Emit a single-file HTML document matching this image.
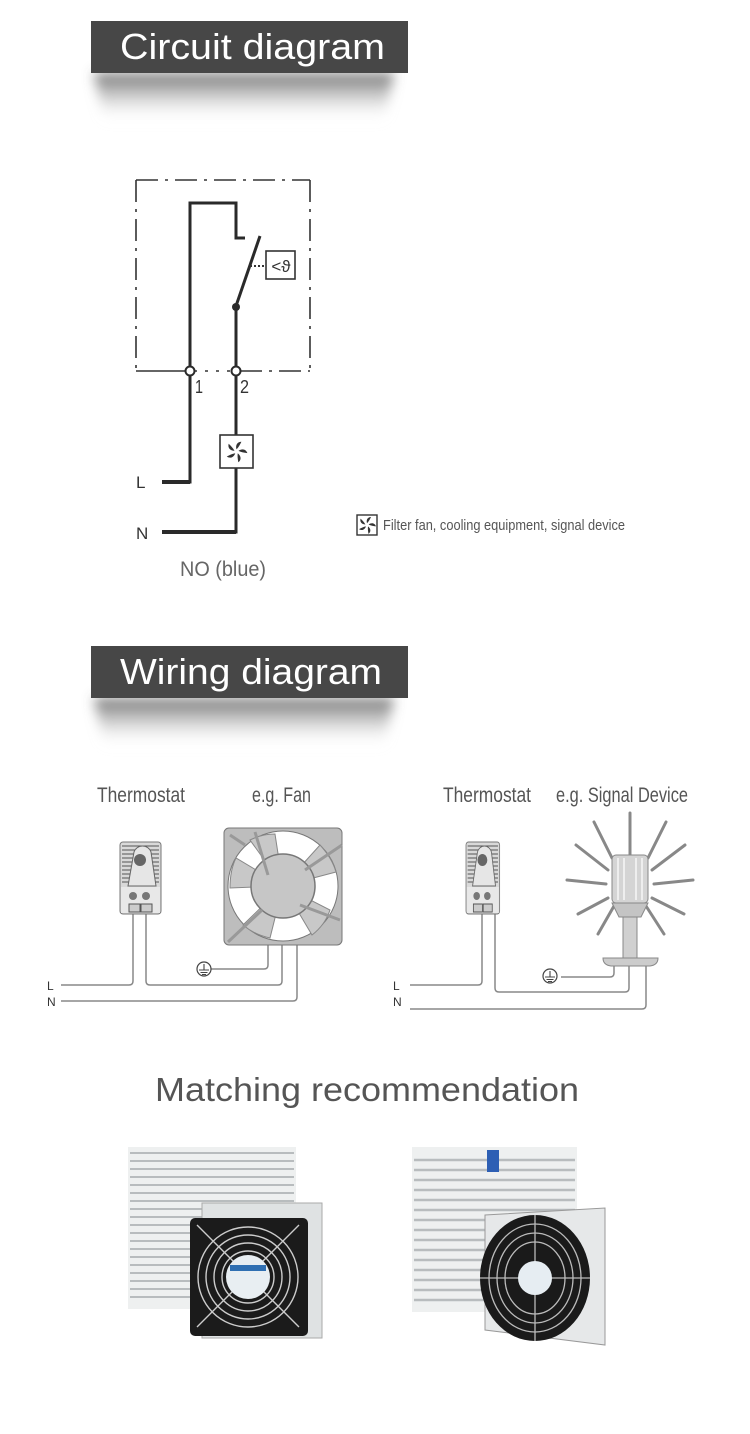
<!DOCTYPE html>
<html><head><meta charset="utf-8"><style>
html,body{margin:0;padding:0;background:#fff;}
svg{display:block;}
text{font-family:"Liberation Sans",sans-serif;}
</style></head><body>
<svg width="750" height="1434" viewBox="0 0 750 1434" xmlns="http://www.w3.org/2000/svg">
<defs>
<linearGradient id="sh" x1="0" y1="0" x2="0" y2="1">
<stop offset="0" stop-color="#555" stop-opacity="0.85"/>
<stop offset="0.5" stop-color="#999" stop-opacity="0.45"/>
<stop offset="1" stop-color="#fff" stop-opacity="0"/>
</linearGradient>
<filter id="bl" x="-20%" y="-50%" width="140%" height="200%"><feGaussianBlur stdDeviation="6"/></filter>
<g id="fanic">
<g fill="#333">
<path d="M0,-1.5 C-1,-5 1,-7 3.5,-7 C2.5,-5 1.5,-3 0,-1.5Z"/>
<path d="M0,-1.5 C-1,-5 1,-7 3.5,-7 C2.5,-5 1.5,-3 0,-1.5Z" transform="rotate(72)"/>
<path d="M0,-1.5 C-1,-5 1,-7 3.5,-7 C2.5,-5 1.5,-3 0,-1.5Z" transform="rotate(144)"/>
<path d="M0,-1.5 C-1,-5 1,-7 3.5,-7 C2.5,-5 1.5,-3 0,-1.5Z" transform="rotate(216)"/>
<path d="M0,-1.5 C-1,-5 1,-7 3.5,-7 C2.5,-5 1.5,-3 0,-1.5Z" transform="rotate(288)"/>
</g></g>
<g id="gnd"><circle r="7" fill="#fff" stroke="#444" stroke-width="1.2"/><path d="M0,-5V1M-5,1H5M-3.5,3.5H3.5M-2,5.5H2" stroke="#444" stroke-width="1.1"/></g>
<g id="thermo">
<rect x="0" y="0" width="41" height="72" rx="3" fill="#d9d9d9" stroke="#777"/>
<g stroke="#555" stroke-width="1">
<path d="M2,4H39M2,8H39M2,12H39M2,16H39M2,20H39M2,24H39M2,28H39M2,32H39M2,36H39M2,40H39"/>
</g>
<path d="M14,10 a9,9 0 0 1 17,0 L36,44 L8,44 Z" fill="#e6e6e6" stroke="#666"/>
<circle cx="20" cy="18" r="6" fill="#666"/>
<rect x="1" y="45" width="39" height="26" fill="#e8e8e8"/>
<circle cx="13" cy="54" r="4" fill="#777"/><circle cx="26" cy="54" r="4" fill="#777"/>
<rect x="9" y="62" width="11" height="8" fill="#ccc" stroke="#555"/><rect x="21" y="62" width="11" height="8" fill="#ccc" stroke="#555"/>
</g>
</defs>

<!-- Banner 1 -->
<path d="M94,73 H394 L384,122 H104 Z" fill="url(#sh)" filter="url(#bl)"/>
<rect x="91" y="21" width="317" height="52" fill="#474747"/>
<text x="120" y="59" font-size="36" fill="#fff" textLength="265" lengthAdjust="spacingAndGlyphs">Circuit diagram</text>

<!-- Circuit -->
<g stroke="#333" stroke-width="1.6" fill="none">
<path d="M136,180 H310" stroke-dasharray="22,7,3,7"/>
<path d="M136,180 V371" stroke-dasharray="22,7,3,7"/>
<path d="M310,180 V371" stroke-dasharray="22,7,3,7"/>
<path d="M136,371 H186"/>
<path d="M194,371 H232" stroke-dasharray="3,8"/>
<path d="M240,371 H310" stroke-dasharray="22,7,3,7"/>
</g>
<g stroke="#2a2a2a" stroke-width="3" fill="none">
<path d="M190,375 V482 H162"/>
<path d="M190,367 V203 H236 V238 H245"/>
<path d="M236,306 L260,236"/>
<path d="M236,306 V367"/>
<path d="M236,375 V435"/>
<path d="M236,468 V532 H162"/>
</g>
<path d="M162,482 H190 M162,532 H236" stroke="#2a2a2a" stroke-width="4"/>
<circle cx="236" cy="307" r="4" fill="#2a2a2a"/>
<circle cx="190" cy="371" r="4.5" fill="#fff" stroke="#2a2a2a" stroke-width="2"/>
<circle cx="236" cy="371" r="4.5" fill="#fff" stroke="#2a2a2a" stroke-width="2"/>
<path d="M250,266 H266" stroke="#333" stroke-width="2" stroke-dasharray="2,2"/>
<rect x="266" y="251" width="29" height="28" fill="#fff" stroke="#333" stroke-width="1.6"/>
<text x="281" y="272" font-size="17" fill="#333" text-anchor="middle">&lt;ϑ</text>
<rect x="220" y="435" width="33" height="33" fill="#fff" stroke="#333" stroke-width="1.6"/>
<use href="#fanic" transform="translate(236.5,451.5) scale(1.4)"/>
<text x="195" y="393" font-size="18" fill="#333" textLength="8" lengthAdjust="spacingAndGlyphs">1</text>
<text x="240" y="393" font-size="18" fill="#333" textLength="9" lengthAdjust="spacingAndGlyphs">2</text>
<text x="136" y="488" font-size="17" fill="#333">L</text>
<text x="136" y="539" font-size="17" fill="#333">N</text>
<text x="180" y="576" font-size="21" fill="#666" textLength="86" lengthAdjust="spacingAndGlyphs">NO (blue)</text>

<rect x="357" y="515" width="20" height="20" fill="#fff" stroke="#333" stroke-width="1.4"/>
<use href="#fanic" transform="translate(367,525) scale(1.15)"/>
<text x="383" y="530" font-size="15" fill="#555" textLength="242" lengthAdjust="spacingAndGlyphs">Filter fan, cooling equipment, signal device</text>

<!-- Banner 2 -->
<path d="M94,698 H394 L384,747 H104 Z" fill="url(#sh)" filter="url(#bl)"/>
<rect x="91" y="646" width="317" height="52" fill="#474747"/>
<text x="120" y="684" font-size="36" fill="#fff" textLength="262" lengthAdjust="spacingAndGlyphs">Wiring diagram</text>

<!-- Wiring labels -->
<g font-size="21" fill="#555">
<text x="97" y="802" textLength="88" lengthAdjust="spacingAndGlyphs">Thermostat</text>
<text x="252" y="802" textLength="59" lengthAdjust="spacingAndGlyphs">e.g. Fan</text>
<text x="443" y="802" textLength="88" lengthAdjust="spacingAndGlyphs">Thermostat</text>
<text x="556" y="802" textLength="132" lengthAdjust="spacingAndGlyphs">e.g. Signal Device</text>
</g>
<g stroke="#888" stroke-width="1.5" fill="none">
<path d="M61,985 H129 Q133,985 133,981 V914"/>
<path d="M146,914 V981 Q146,985 150,985 H278 Q282,985 282,981 V945"/>
<path d="M210,969 H264 Q268,969 268,965 V945"/>
<path d="M61,1001 H293 Q297,1001 297,997 V945"/>
<path d="M410,985 H478 Q482,985 482,981 V914"/>
<path d="M495,914 V988 Q495,992 499,992 H625 Q629,992 629,988 V965"/>
<path d="M561,977 H610 Q614,977 614,973 V965"/>
<path d="M410,1009 H642 Q646,1009 646,1005 V965"/>
</g>
<use href="#gnd" transform="translate(204,969)"/>
<use href="#gnd" transform="translate(550,976)"/>
<g font-size="12" fill="#333">
<text x="47" y="990">L</text><text x="47" y="1006">N</text>
<text x="393" y="990">L</text><text x="393" y="1006">N</text>
</g>
<use href="#thermo" transform="translate(120,842)"/>
<use href="#thermo" transform="translate(466,842) scale(0.82,1)"/>

<!-- Fan -->
<rect x="224" y="828" width="118" height="117" rx="5" fill="#bdbdbd" stroke="#777"/>
<circle cx="283" cy="886" r="55" fill="#fff" stroke="#777"/>
<g fill="#c8c8c8" stroke="#888">
<path d="M283,886 L250,840 Q262,834 275,834 Z"/>
<path d="M283,886 L320,845 Q332,858 336,872 Z"/>
<path d="M283,886 L330,910 Q325,925 312,935 Z"/>
<path d="M283,886 L270,938 Q255,935 243,925 Z"/>
<path d="M283,886 L230,888 Q230,870 236,858 Z"/>
</g>
<circle cx="283" cy="886" r="32" fill="#c6c6c6" stroke="#777" stroke-width="1.5"/>
<path d="M255,832 L268,875 M342,845 L305,870 M340,920 L300,905 M228,942 L262,910 M230,835 L245,845" stroke="#999" stroke-width="3"/>

<!-- Signal lamp -->
<g stroke="#888" stroke-width="3" stroke-linecap="round">
<path d="M630,855 V813"/>
<path d="M612,858 L594,822"/><path d="M648,858 L666,822"/>
<path d="M608,870 L576,845"/><path d="M652,870 L685,845"/>
<path d="M606,884 L567,880"/><path d="M654,884 L693,880"/>
<path d="M608,898 L578,914"/><path d="M652,898 L684,914"/>
<path d="M614,906 L598,934"/><path d="M646,906 L664,934"/>
</g>
<rect x="612" y="855" width="36" height="48" rx="4" fill="#d4d4d4" stroke="#888"/>
<path d="M618,858V900M624,858V900M636,858V900M642,858V900" stroke="#eee" stroke-width="2"/>
<path d="M612,903 H648 L641,917 H619 Z" fill="#c4c4c4" stroke="#888"/>
<rect x="623" y="917" width="14" height="41" fill="#d0d0d0" stroke="#888"/>
<path d="M603,958 H658 Q658,965 650,966 H611 Q603,965 603,958Z" fill="#ccc" stroke="#888"/>

<!-- Matching -->
<text x="155" y="1101" font-size="33" fill="#555" textLength="424" lengthAdjust="spacingAndGlyphs">Matching recommendation</text>

<!-- Left product -->
<rect x="128" y="1147" width="168" height="162" fill="#eef0f0"/>
<g stroke="#b8bcbe" stroke-width="2">
<path d="M130,1153H294M130,1161H294M130,1169H294M130,1177H294M130,1185H294M130,1193H294M130,1201H294M130,1209H294M130,1217H294M130,1225H294M130,1233H294M130,1241H294M130,1249H294M130,1257H294M130,1265H294M130,1273H294M130,1281H294M130,1289H294M130,1297H294"/>
</g>
<rect x="202" y="1203" width="120" height="135" fill="#dfe2e3" stroke="#aaa"/>
<rect x="190" y="1218" width="118" height="118" rx="5" fill="#1b1b1b"/>
<g fill="none" stroke="#ccc" stroke-width="1.4">
<circle cx="248" cy="1277" r="50"/><circle cx="248" cy="1277" r="42"/><circle cx="248" cy="1277" r="34"/><circle cx="248" cy="1277" r="26"/>
<path d="M197,1225 L299,1327 M299,1225 L197,1327"/>
</g>
<circle cx="248" cy="1277" r="22" fill="#e8eef2"/>
<path d="M230,1268 H266" stroke="#2f6fb2" stroke-width="6"/>

<!-- Right product -->
<rect x="412" y="1147" width="165" height="165" fill="#eef0f0"/>
<g stroke="#b8bcbe" stroke-width="2.5">
<path d="M414,1160H575M414,1170H575M414,1180H575M414,1190H575M414,1200H575M414,1210H575M414,1220H575M414,1230H575M414,1240H575M414,1250H575M414,1260H575M414,1270H575M414,1280H575M414,1290H575M414,1300H575"/>
</g>
<rect x="487" y="1150" width="12" height="22" fill="#2d5fb4"/>
<path d="M485,1215 L605,1208 V1345 L485,1330 Z" fill="#e6e8e9" stroke="#999"/>
<ellipse cx="535" cy="1278" rx="55" ry="63" fill="#1a1a1a"/>
<g fill="none" stroke="#bbb" stroke-width="1.3">
<ellipse cx="535" cy="1278" rx="46" ry="54"/><ellipse cx="535" cy="1278" rx="38" ry="45"/><ellipse cx="535" cy="1278" rx="30" ry="36"/>
<path d="M535,1215V1341M480,1278H590"/>
</g>
<circle cx="535" cy="1278" r="17" fill="#e6edf2"/>
</svg>
</body></html>
